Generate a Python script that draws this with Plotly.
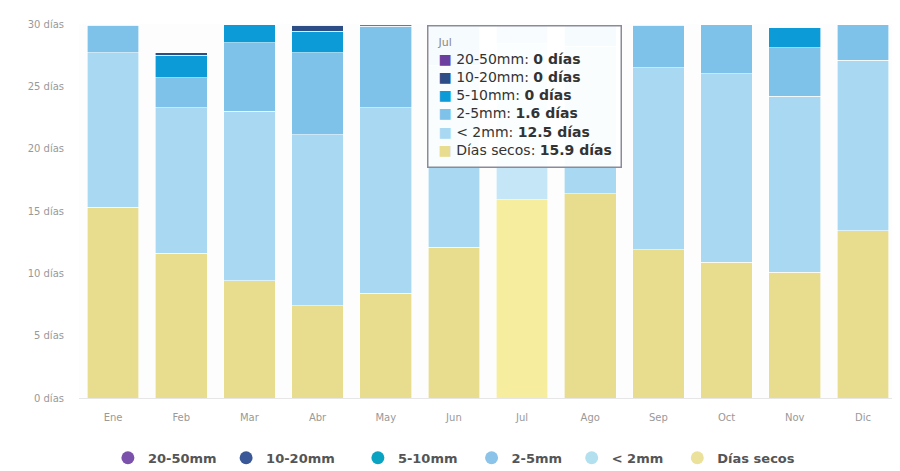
import plotly.graph_objects as go

months = ["Ene", "Feb", "Mar", "Abr", "May", "Jun", "Jul", "Ago", "Sep", "Oct", "Nov", "Dic"]
y_ticks = [0, 5, 10, 15, 20, 25, 30]
y_tick_labels = [f"{v} días" for v in y_ticks]

# days per month in each rain class
dias_secos = [15.3, 11.6, 9.4, 7.4, 8.4, 12.1, 15.9, 16.4, 11.9, 10.9, 10.1, 13.4]
menos_2mm = [12.4, 11.7, 13.6, 13.7, 14.9, 14.6, 12.5, 11.8, 14.6, 15.1, 14.1, 13.7]
mm_2_5 = [2.2, 2.4, 5.5, 6.6, 6.5, 3.1, 1.6, 1.8, 3.4, 4.0, 3.9, 2.9]
mm_5_10 = [0.1, 1.8, 1.5, 1.7, 0.2, 0.2, 0, 0, 0.1, 0, 1.6, 0]
mm_10_20 = [0, 0.2, 0, 0.5, 0, 0, 0, 0, 0, 0, 0, 0]
mm_20_50 = [0, 0, 0, 0, 0, 0, 0, 0, 0, 0, 0, 0]

series = [
    ("Días secos", dias_secos, "#e8dc8e", "#f6ee9e", "#ebe19a"),
    ("< 2mm", menos_2mm, "#a9d9f2", "#c4e6f7", "#b3e0ef"),
    ("2-5mm", mm_2_5, "#7fc2e9", "#a0d2f0", "#8cc3e8"),
    ("5-10mm", mm_5_10, "#0c9bd6", "#3cb1e0", "#0aa3c2"),
    ("10-20mm", mm_10_20, "#2d4d86", "#4a6aa0", "#3a5897"),
    ("20-50mm", mm_20_50, "#6a3fa0", "#8560b5", "#7b52ab"),
]
legend_pad = {"20-50mm": 1, "10-20mm": 4, "5-10mm": 2, "2-5mm": 1, "< 2mm": 2, "Días secos": 0}
hover_month = "Jul"

fig = go.Figure()
for name, values, color, hover_color, legend_color in series:
    colors = [hover_color if m == hover_month else color for m in months]
    fig.add_trace(go.Bar(x=months, y=values, name=name, showlegend=False,
                         marker=dict(color=colors, line=dict(color="white", width=0.6))))

# legend entries drawn as circles, in the order of the reference
for name, values, color, hover_color, legend_color in reversed(series):
    fig.add_trace(go.Scatter(x=[None], y=[None], mode="markers",
                             name=name + "&nbsp;" * legend_pad[name],
                             marker=dict(symbol="circle", size=13, color=legend_color)))

# static tooltip like the hover box over July
idx = months.index(hover_month)
lines = [f"<span style='font-size:11px;color:#888'>{hover_month}</span>"]
for name, values, color, hover_color, legend_color in reversed(series):
    v = values[idx]
    lines.append(f"<span style='color:{color}'>■</span> {name}: <b>{v:g} días</b>")
fig.add_annotation(x=hover_month, y=30, xref="x", yref="y", xanchor="left", yanchor="top",
                   xshift=-95, yshift=-1, text="<br>".join(lines), showarrow=False, align="left",
                   font=dict(family="DejaVu Sans", size=14, color="#333"),
                   bgcolor="rgba(255,255,255,0.93)", bordercolor="#8a8a9a", borderwidth=1.5,
                   borderpad=9)

# page body has an 8px offset, margins compensate for it
fig.update_layout(width=900, height=471, barmode="stack", bargap=0.24,
                  margin=dict(l=71, r=11, t=16, b=81),
                  paper_bgcolor="white", plot_bgcolor="#fdfdfd",
                  font=dict(family="DejaVu Sans", size=10, color="#999"),
                  legend=dict(orientation="h", xref="container", yref="container",
                              x=0.111, xanchor="left", y=0.045, yanchor="middle",
                              font=dict(size=13, color="#555", family="DejaVu Sans", weight="bold"),
                              traceorder="normal"))
fig.update_xaxes(showline=True, linecolor="#e6e6e6", linewidth=1, ticks="", showgrid=False,
                 ticklabelstandoff=10, tickfont=dict(size=10, color="#999"))
fig.update_yaxes(range=[0, 30], tickvals=y_ticks, ticktext=y_tick_labels, showgrid=False,
                 zeroline=False, ticks="", ticklabelstandoff=14, tickfont=dict(size=10, color="#999"))

fig.write_html("out.html")
